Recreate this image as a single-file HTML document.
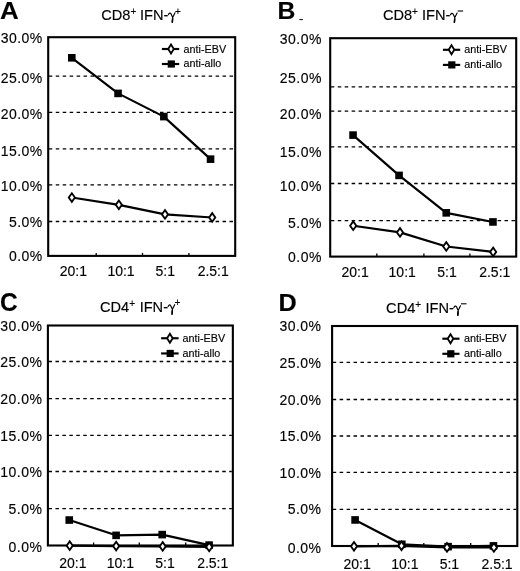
<!DOCTYPE html>
<html><head><meta charset="utf-8"><style>
html,body{margin:0;padding:0;background:#fff;}
body{width:520px;height:571px;overflow:hidden;}
svg{display:block;will-change:transform;}
text{font-family:"Liberation Sans",sans-serif;fill:#000;stroke:#000;stroke-width:0.15px;}
.yl{font-size:14.0px;text-anchor:end;letter-spacing:0.45px;}
.xl{font-size:14.0px;text-anchor:middle;}
.lg{font-size:10.8px;}
.tt{font-size:14.6px;}
.sp{font-size:10px;}
.pl{font-size:24.0px;font-weight:bold;}
.bx{fill:none;stroke:#000;stroke-width:2.1;}
.gr{stroke:#000;stroke-width:1.3;stroke-dasharray:3.5 3.45;}
.tk{stroke:#000;stroke-width:1.3;}
.gam{fill:none;stroke:#000;stroke-width:1.15;stroke-linecap:round;stroke-linejoin:round;}
.gamt{fill:none;stroke:#000;stroke-width:1.6;stroke-linecap:round;}
.mn{stroke:#000;stroke-width:1.1;}
.dl{fill:none;stroke:#000;stroke-width:2.15;stroke-linejoin:round;}
.dm{fill:#fff;stroke:#000;stroke-width:1.8;stroke-linejoin:miter;}
rect{fill:#000;}
rect.bx{fill:none;}
</style></head><body>
<svg width="520" height="571" viewBox="0 0 520 571">
<line class="gr" x1="48.8" y1="76.2" x2="234.2" y2="76.2"/>
<line class="gr" x1="48.8" y1="112.4" x2="234.2" y2="112.4"/>
<line class="gr" x1="48.8" y1="148.85" x2="234.2" y2="148.85"/>
<line class="gr" x1="48.8" y1="184.9" x2="234.2" y2="184.9"/>
<line class="gr" x1="48.8" y1="221.5" x2="234.2" y2="221.5"/>
<line class="tk" x1="96.2" y1="255.9" x2="96.2" y2="252.9"/>
<line class="tk" x1="142.5" y1="255.9" x2="142.5" y2="252.9"/>
<line class="tk" x1="188.9" y1="255.9" x2="188.9" y2="252.9"/>
<rect class="bx" x="48.2" y="37.2" width="187" height="218.7"/>
<text class="yl" x="42.7" y="43.25">30.0%</text>
<text class="yl" x="42.7" y="82.7">25.0%</text>
<text class="yl" x="42.7" y="118.7">20.0%</text>
<text class="yl" x="42.7" y="155.7">15.0%</text>
<text class="yl" x="42.7" y="191">10.0%</text>
<text class="yl" x="42.7" y="227.2">5.0%</text>
<text class="yl" x="42.7" y="261.3">0.0%</text>
<text class="xl" x="73.3" y="275.8">20:1</text>
<text class="xl" x="121" y="275.8">10:1</text>
<text class="xl" x="165.3" y="275.8">5:1</text>
<text class="xl" x="213.2" y="275.8">2.5:1</text>
<polyline class="dl" points="71.8,57.8 118.05,93.4 163.85,116.6 210.55,159.15"/>
<polyline class="dl" points="71.85,197.55 118.85,204.85 165,214.4 212.2,217.45"/>
<rect x="68" y="54" width="7.6" height="7.6"/>
<rect x="114.25" y="89.6" width="7.6" height="7.6"/>
<rect x="160.05" y="112.8" width="7.6" height="7.6"/>
<rect x="206.75" y="155.35" width="7.6" height="7.6"/>
<path class="dm" d="M71.85 193.25L74.95 197.55L71.85 201.85L68.75 197.55Z"/>
<path class="dm" d="M118.85 200.55L121.95 204.85L118.85 209.15L115.75 204.85Z"/>
<path class="dm" d="M165 210.1L168.1 214.4L165 218.7L161.9 214.4Z"/>
<path class="dm" d="M212.2 213.15L215.3 217.45L212.2 221.75L209.1 217.45Z"/>
<line class="dl" x1="161.9" y1="49" x2="179.2" y2="49"/>
<line class="dl" x1="161.9" y1="64" x2="179.2" y2="64"/>
<path class="dm" d="M171 44.5L173.8 49L171 53.5L168.2 49Z"/>
<rect x="167.7" y="60.4" width="7.2" height="7.2"/>
<text class="lg" x="183.5" y="52.6">anti-EBV</text>
<text class="lg" x="183.5" y="67.1">anti-allo</text>
<text class="tt" x="101.2" y="19.7">CD8<tspan class="sp" dy="-4.6">+</tspan></text>
<text class="tt" x="139.93" y="19.7">IFN-</text>
<path class="gam" transform="translate(168.4 19.7)" d="M0 -5.1C0.5 -6.5 1.7 -7.3 2.6 -5.9L4.3 -2.3L3.9 2.6M6.6 -6.9L4.3 -2.3"/>
<path class="gamt" transform="translate(168.4 19.7)" d="M4.2 -0.8L3.9 2.4"/>
<text class="sp" x="174.9" y="14.5">+</text>
<text class="pl" transform="translate(0.1 19) scale(1.08 1)">A</text>
<line class="gr" x1="330.8" y1="86.8" x2="515.2" y2="86.8"/>
<line class="gr" x1="330.8" y1="111.1" x2="515.2" y2="111.1"/>
<line class="gr" x1="330.8" y1="146.9" x2="515.2" y2="146.9"/>
<line class="gr" x1="330.8" y1="183.5" x2="515.2" y2="183.5"/>
<line class="gr" x1="330.8" y1="220.7" x2="515.2" y2="220.7"/>
<line class="tk" x1="376.8" y1="256.6" x2="376.8" y2="253.6"/>
<line class="tk" x1="423.9" y1="256.6" x2="423.9" y2="253.6"/>
<line class="tk" x1="469.9" y1="256.6" x2="469.9" y2="253.6"/>
<rect class="bx" x="330.2" y="38.2" width="186" height="218.4"/>
<text class="yl" x="321.8" y="44.1">30.0%</text>
<text class="yl" x="321.8" y="83.1">25.0%</text>
<text class="yl" x="321.8" y="118.9">20.0%</text>
<text class="yl" x="321.8" y="156.6">15.0%</text>
<text class="yl" x="321.8" y="191.1">10.0%</text>
<text class="yl" x="321.8" y="227.7">5.0%</text>
<text class="yl" x="321.8" y="262.1">0.0%</text>
<text class="xl" x="355.15" y="276.6">20:1</text>
<text class="xl" x="402.2" y="276.6">10:1</text>
<text class="xl" x="446.95" y="276.6">5:1</text>
<text class="xl" x="494.75" y="276.6">2.5:1</text>
<polyline class="dl" points="353.05,135.1 399.05,175.4 446.25,212.85 492.95,221.95"/>
<polyline class="dl" points="353.2,225.7 400,232.4 446.25,246.45 493.15,251.9"/>
<rect x="349.25" y="131.3" width="7.6" height="7.6"/>
<rect x="395.25" y="171.6" width="7.6" height="7.6"/>
<rect x="442.45" y="209.05" width="7.6" height="7.6"/>
<rect x="489.15" y="218.15" width="7.6" height="7.6"/>
<path class="dm" d="M353.2 221.4L356.3 225.7L353.2 230L350.1 225.7Z"/>
<path class="dm" d="M400 228.1L403.1 232.4L400 236.7L396.9 232.4Z"/>
<path class="dm" d="M446.25 242.15L449.35 246.45L446.25 250.75L443.15 246.45Z"/>
<path class="dm" d="M493.15 247.6L496.25 251.9L493.15 256.2L490.05 251.9Z"/>
<line class="dl" x1="442.9" y1="49.8" x2="460.2" y2="49.8"/>
<line class="dl" x1="442.9" y1="64.9" x2="460.2" y2="64.9"/>
<path class="dm" d="M451.5 45.3L454.3 49.8L451.5 54.3L448.7 49.8Z"/>
<rect x="448.2" y="61.3" width="7.2" height="7.2"/>
<text class="lg" x="464.3" y="53.3">anti-EBV</text>
<text class="lg" x="464.3" y="68">anti-allo</text>
<text class="tt" x="382.9" y="19.9">CD8<tspan class="sp" dy="-4.6">+</tspan></text>
<text class="tt" x="422.03" y="19.9">IFN-</text>
<path class="gam" transform="translate(450.5 19.9)" d="M0 -5.1C0.5 -6.5 1.7 -7.3 2.6 -5.9L4.3 -2.3L3.9 2.6M6.6 -6.9L4.3 -2.3"/>
<path class="gamt" transform="translate(450.5 19.9)" d="M4.2 -0.8L3.9 2.4"/>
<line class="mn" x1="457.6" y1="11" x2="463.1" y2="11"/>
<text class="pl" transform="translate(277.41 19) scale(1.03 1)">B</text>
<line class="gr" x1="48.5" y1="361.5" x2="231.85" y2="361.5"/>
<line class="gr" x1="48.5" y1="398.55" x2="231.85" y2="398.55"/>
<line class="gr" x1="48.5" y1="435.3" x2="231.85" y2="435.3"/>
<line class="gr" x1="48.5" y1="471.5" x2="231.85" y2="471.5"/>
<line class="gr" x1="48.5" y1="508.6" x2="231.85" y2="508.6"/>
<line class="tk" x1="93.6" y1="545.5" x2="93.6" y2="542.5"/>
<line class="tk" x1="139.3" y1="545.5" x2="139.3" y2="542.5"/>
<line class="tk" x1="185.7" y1="545.5" x2="185.7" y2="542.5"/>
<rect class="bx" x="47.9" y="325.5" width="184.95" height="220"/>
<text class="yl" x="42.3" y="330.5">30.0%</text>
<text class="yl" x="42.3" y="367.2">25.0%</text>
<text class="yl" x="42.3" y="403.8">20.0%</text>
<text class="yl" x="42.3" y="440.5">15.0%</text>
<text class="yl" x="42.3" y="477">10.0%</text>
<text class="yl" x="42.3" y="513.8">5.0%</text>
<text class="yl" x="42.3" y="552.4">0.0%</text>
<text class="xl" x="72.9" y="567.9">20:1</text>
<text class="xl" x="120.4" y="567.9">10:1</text>
<text class="xl" x="164.95" y="567.9">5:1</text>
<text class="xl" x="212.7" y="567.9">2.5:1</text>
<polyline class="dl" points="69.25,520.05 116.1,535.35 162.2,534.6 209.1,545.1"/>
<polyline class="dl" points="69.7,545.65 116.15,546.1 162.7,546.4 209.2,547"/>
<rect x="65.45" y="516.25" width="7.6" height="7.6"/>
<rect x="112.3" y="531.55" width="7.6" height="7.6"/>
<rect x="158.4" y="530.8" width="7.6" height="7.6"/>
<rect x="205.3" y="541.3" width="7.6" height="7.6"/>
<path class="dm" d="M69.7 541.35L72.8 545.65L69.7 549.95L66.6 545.65Z"/>
<path class="dm" d="M116.15 541.8L119.25 546.1L116.15 550.4L113.05 546.1Z"/>
<path class="dm" d="M162.7 542.1L165.8 546.4L162.7 550.7L159.6 546.4Z"/>
<path class="dm" d="M209.2 542.7L212.3 547L209.2 551.3L206.1 547Z"/>
<line class="dl" x1="161.1" y1="338.25" x2="178.6" y2="338.25"/>
<line class="dl" x1="161.1" y1="353.45" x2="178.6" y2="353.45"/>
<path class="dm" d="M169.9 333.75L172.7 338.25L169.9 342.75L167.1 338.25Z"/>
<rect x="166.6" y="349.85" width="7.2" height="7.2"/>
<text class="lg" x="182.5" y="341.85">anti-EBV</text>
<text class="lg" x="182.5" y="356.5">anti-allo</text>
<text class="tt" x="100" y="311.6">CD4<tspan class="sp" dy="-4.6">+</tspan></text>
<text class="tt" x="139.63" y="311.6">IFN-</text>
<path class="gam" transform="translate(168.1 311.6)" d="M0 -5.1C0.5 -6.5 1.7 -7.3 2.6 -5.9L4.3 -2.3L3.9 2.6M6.6 -6.9L4.3 -2.3"/>
<path class="gamt" transform="translate(168.1 311.6)" d="M4.2 -0.8L3.9 2.4"/>
<text class="sp" x="174.6" y="306.4">+</text>
<text class="pl" transform="translate(-0.07 311.2) scale(1.02 1.05)">C</text>
<line class="gr" x1="332.7" y1="362.3" x2="516.3" y2="362.3"/>
<line class="gr" x1="332.7" y1="399.5" x2="516.3" y2="399.5"/>
<line class="gr" x1="332.7" y1="436" x2="516.3" y2="436"/>
<line class="gr" x1="332.7" y1="472.4" x2="516.3" y2="472.4"/>
<line class="gr" x1="332.7" y1="509.4" x2="516.3" y2="509.4"/>
<line class="tk" x1="378.2" y1="546" x2="378.2" y2="543"/>
<line class="tk" x1="423.8" y1="546" x2="423.8" y2="543"/>
<line class="tk" x1="470.7" y1="546" x2="470.7" y2="543"/>
<rect class="bx" x="332.1" y="326" width="185.2" height="220"/>
<text class="yl" x="321.5" y="331">30.0%</text>
<text class="yl" x="321.5" y="368.15">25.0%</text>
<text class="yl" x="321.5" y="404.5">20.0%</text>
<text class="yl" x="321.5" y="441">15.0%</text>
<text class="yl" x="321.5" y="477.6">10.0%</text>
<text class="yl" x="321.5" y="514">5.0%</text>
<text class="yl" x="321.5" y="553.2">0.0%</text>
<text class="xl" x="357.15" y="568.5">20:1</text>
<text class="xl" x="404.8" y="568.5">10:1</text>
<text class="xl" x="449.4" y="568.5">5:1</text>
<text class="xl" x="497.05" y="568.5">2.5:1</text>
<polyline class="dl" points="355.1,519.95 401.8,544.3 448.1,546.65 493.45,545.9"/>
<polyline class="dl" points="354,546.35 401.5,545.85 447,547.4 493.9,547.5"/>
<rect x="351.3" y="516.15" width="7.6" height="7.6"/>
<rect x="398" y="540.5" width="7.6" height="7.6"/>
<rect x="444.3" y="542.85" width="7.6" height="7.6"/>
<rect x="489.65" y="542.1" width="7.6" height="7.6"/>
<path class="dm" d="M354 542.05L357.1 546.35L354 550.65L350.9 546.35Z"/>
<path class="dm" d="M401.5 541.55L404.6 545.85L401.5 550.15L398.4 545.85Z"/>
<path class="dm" d="M447 543.1L450.1 547.4L447 551.7L443.9 547.4Z"/>
<path class="dm" d="M493.9 543.2L497 547.5L493.9 551.8L490.8 547.5Z"/>
<line class="dl" x1="442.35" y1="338.7" x2="459.5" y2="338.7"/>
<line class="dl" x1="442.35" y1="353.8" x2="459.5" y2="353.8"/>
<path class="dm" d="M450.5 334.2L453.3 338.7L450.5 343.2L447.7 338.7Z"/>
<rect x="447.2" y="350.2" width="7.2" height="7.2"/>
<text class="lg" x="463.9" y="342.3">anti-EBV</text>
<text class="lg" x="463.9" y="357">anti-allo</text>
<text class="tt" x="386.1" y="312.7">CD4<tspan class="sp" dy="-4.6">+</tspan></text>
<text class="tt" x="425.43" y="312.7">IFN-</text>
<path class="gam" transform="translate(453.9 312.7)" d="M0 -5.1C0.5 -6.5 1.7 -7.3 2.6 -5.9L4.3 -2.3L3.9 2.6M6.6 -6.9L4.3 -2.3"/>
<path class="gamt" transform="translate(453.9 312.7)" d="M4.2 -0.8L3.9 2.4"/>
<line class="mn" x1="461" y1="303.8" x2="466.5" y2="303.8"/>
<text class="pl" transform="translate(278.44 311.2) scale(1.05 1)">D</text>
<line x1="299.4" y1="19.6" x2="302.9" y2="19.6" stroke="#000" stroke-width="1"/>
</svg>
</body></html>
